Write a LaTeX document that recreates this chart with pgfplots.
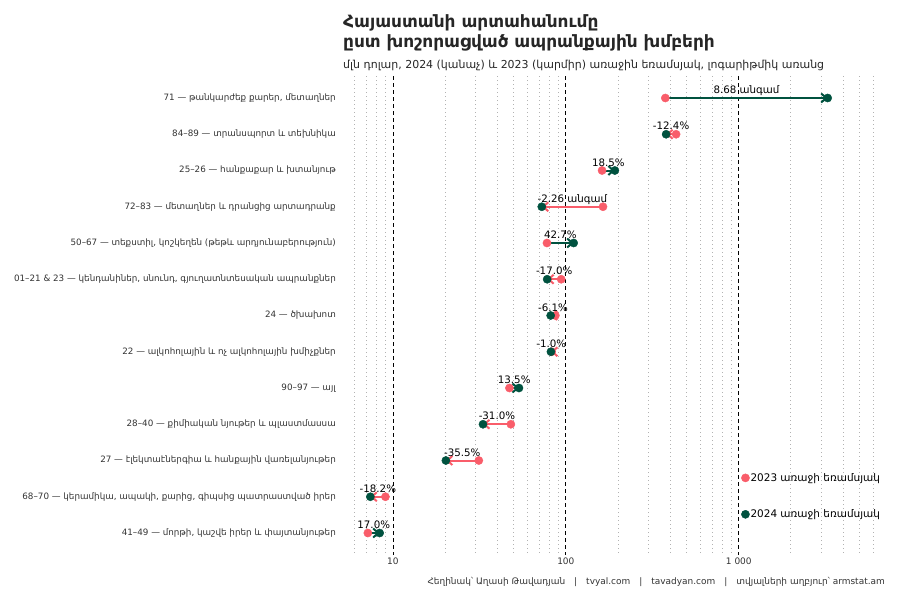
\documentclass[border=0pt]{standalone}
\usepackage{fontspec}
\setmainfont{DejaVu Sans}
\usepackage{pgfplots}
\usepackage{pgfplotstable}
\pgfplotsset{compat=1.18}
\usetikzlibrary{arrows.meta}

\definecolor{red23}{HTML}{F95D6A}
\definecolor{green24}{HTML}{00523F}
\definecolor{txtgray}{HTML}{333333}

% y = row from the top; a23, a24 = mln USD, first quarter
\pgfplotstableread[col sep=semicolon]{
y;a23;a24;diff;name
1;376;3264;8.68 անգամ;71 — թանկարժեք քարեր, մետաղներ
2;434;380;-12.4\%;84–89 — տրանսպորտ և տեխնիկա
3;162;192;18.5\%;25–26 — հանքաքար և խտանյութ
4;164;72.6;-2.26 անգամ;72–83 — մետաղներ և դրանցից արտադրանք
5;77.8;111;42.7\%;50–67 — տեքստիլ, կոշկեղեն (թեթև արդյունաբերություն)
6;94.0;78.0;-17.0\%;01–21 \& 23 — կենդանիներ, սնունդ, գյուղատնտեսական ապրանքներ
7;87.0;81.7;-6.1\%;24 — ծխախոտ
8;82.8;82.0;-1.0\%;22 — ալկոհոլային և ոչ ալկոհոլային խմիչքներ
9;47.2;53.6;13.5\%;90–97 — այլ
10;48.1;33.2;-31.0\%;28–40 — քիմիական նյութեր և պլաստմասսա
11;31.4;20.25;-35.5\%;27 — էլեկտաէներգիա և հանքային վառելանյութեր
12;9.06;7.41;-18.2\%;68–70 — կերամիկա, ապակի, քարից, գիպսից պատրաստված իրեր
13;7.17;8.39;17.0\%;41–49 — մորթի, կաշվե իրեր և փայտանյութեր
}\exports

\begin{document}
\begin{tikzpicture}
\path[use as bounding box] (0,0) rectangle (900bp,600bp);

\begin{axis}[
  at={(343bp,45.25bp)}, anchor=south west,
  scale only axis, width=542bp, height=478.5bp,
  xmode=log, xmin=5.15, xmax=7000,
  ymin=0.4, ymax=13.6, y dir=reverse,
  axis line style={draw=none},
  major tick length=0pt, minor tick length=0pt,
  xtick={10,100,1000}, xticklabels={10,100,1 000},
  minor xtick={6,7,8,9,20,30,40,50,60,70,80,90,200,300,400,500,600,700,800,900,2000,3000,4000,5000,6000},
  xmajorgrids, xminorgrids,
  major grid style={black, line width=0.7bp, dash pattern=on 4bp off 3bp},
  minor grid style={black!30, line width=0.8bp, dash pattern=on 0.8bp off 3.2bp},
  ytick={1,...,13},
  yticklabels from table={\exports}{name},
  yticklabel style={font=\fontsize{8.8}{10}\selectfont, text=txtgray, inner sep=0pt, xshift=-7bp},
  xticklabel style={font=\fontsize{9}{10}\selectfont, text=txtgray},
  legend image code/.code={\draw[#1] plot coordinates {(0bp,0bp)};},
  legend style={at={(0.7346,0.173)}, anchor=north west, draw=none, fill=none,
    inner sep=0pt, row sep=25bp, font=\fontsize{10.5}{12}\selectfont,
    nodes={inner sep=1pt}},
  legend cell align=left,
]
\addplot[only marks, mark=*, mark size=4.1bp, color=red23] table[x=a23, y=y] {\exports};
\addlegendentry{2023 առաջի եռամսյակ}
\addplot[only marks, mark=*, mark size=4.1bp, color=green24] table[x=a24, y=y] {\exports};
\addlegendentry{2024 առաջի եռամսյակ}

% arrows from 2023 to 2024, green when up, red when down
\pgfplotsinvokeforeach{0,...,12}{
  \pgfplotstablegetelem{#1}{a23}\of\exports\let\va\pgfplotsretval
  \pgfplotstablegetelem{#1}{a24}\of\exports\let\vb\pgfplotsretval
  \pgfplotstablegetelem{#1}{y}\of\exports\let\vy\pgfplotsretval
  \ifdim\vb pt>\va pt \def\segcol{green24}\else\def\segcol{red23}\fi
  \edef\temp{\noexpand\addplot[forget plot, color=\segcol, line width=2bp,
    -{Straight Barb[length=5bp,width=9bp,line width=2bp]}]
    coordinates {(\va,\vy) (\vb,\vy)};}
  \temp
}

\addplot[forget plot, only marks, mark=none, nodes near coords,
  point meta=explicit symbolic,
  nodes near coords style={font=\fontsize{10.3}{12}\selectfont, text=black,
    anchor=base, inner sep=0pt, yshift=4.5bp}]
  table[x expr={exp(0.5*(ln(\thisrow{a23})+ln(\thisrow{a24})))}, y=y, meta=diff] {\exports};
\end{axis}

\node[anchor=base west, inner sep=0pt, font=\fontsize{17}{20}\bfseries\selectfont, text=black!85]
  at (343bp,572bp) {Հայաստանի արտահանումը};
\node[anchor=base west, inner sep=0pt, font=\fontsize{17}{20}\bfseries\selectfont, text=black!85]
  at (343bp,552bp) {ըստ խոշորացված ապրանքային խմբերի};
\node[anchor=base west, inner sep=0pt, font=\fontsize{11}{13}\selectfont, text=black!85]
  at (343bp,531bp) {մլն դոլար, 2024 (կանաչ) և 2023 (կարմիր) առաջին եռամսյակ, լոգարիթմիկ առանց};
\node[anchor=base east, inner sep=0pt, font=\fontsize{9}{11}\selectfont, text=txtgray]
  at (885bp,16bp) {Հեղինակ՝ Աղասի Թավադյան\hspace{9bp}|\hspace{9bp}tvyal.com\hspace{9bp}|\hspace{9bp}tavadyan.com\hspace{9bp}|\hspace{9bp}տվյալների աղբյուր՝ armstat.am};
\end{tikzpicture}
\end{document}
